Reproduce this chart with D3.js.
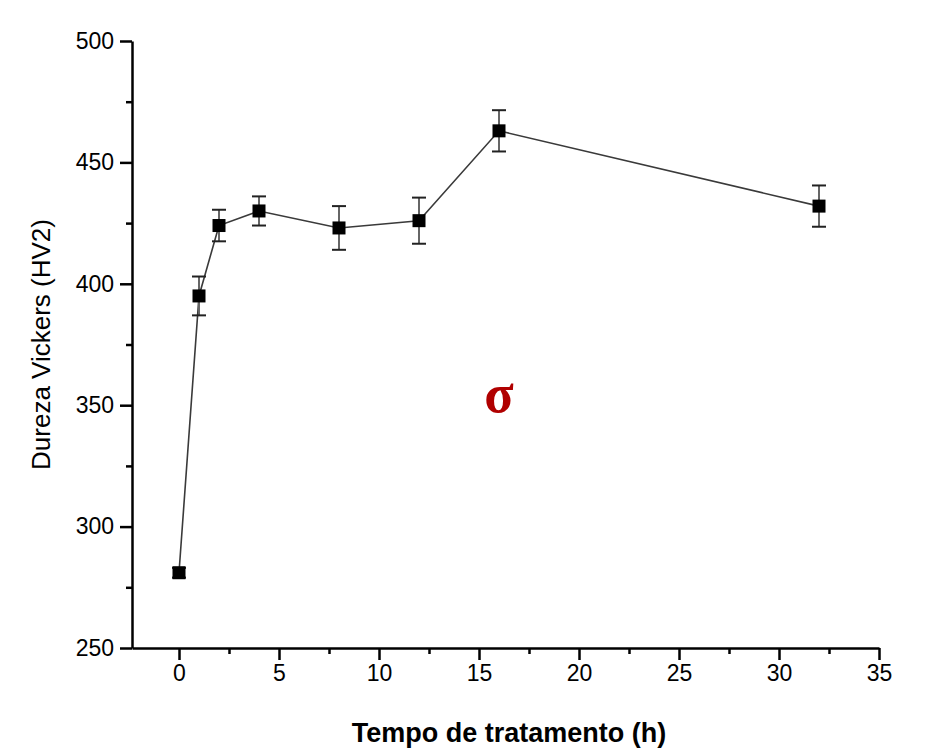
<!DOCTYPE html>
<html>
<head>
<meta charset="utf-8">
<script src="https://cdn.jsdelivr.net/npm/d3@7"></script>
<style>
    body { margin: 0; background: #fff; }
    svg { display: block; font-family: "Liberation Sans", Arial, sans-serif; }
</style>
</head>
<body>
<svg id="svg" width="936" height="749"></svg>
<script>
// tempo (h) vs dureza Vickers
let tempo = [0, 1, 2, 4, 8, 12, 16, 32];
let dureza = [281, 395, 424, 430, 423, 426, 463, 432];
let erro = [2, 8, 6.5, 6, 9, 9.5, 8.5, 8.5];
let xTicks = [0, 5, 10, 15, 20, 25, 30, 35];
let yTicks = [250, 300, 350, 400, 450, 500];

let svg = d3.select('#svg');
let margin = { left: 132, right: 936 - 879, top: 41, bottom: 749 - 648 };
let width = 936 - margin.left - margin.right;
let height = 749 - margin.top - margin.bottom;

let x = d3.scaleLinear().domain([-2.35, 35]).range([0, width]);
let y = d3.scaleLinear().domain([250, 500]).range([height, 0]);

let g = svg.append('g').attr('transform', `translate(${margin.left},${margin.top})`);

// minor ticks
let xMinor = d3.range(2.5, 35, 5);
let yMinor = d3.range(275, 500, 50);
g.append('g')
    .attr('transform', `translate(0,${height})`)
    .call(d3.axisBottom(x).tickValues(xMinor).tickSize(6).tickFormat(''))
    .call(a => a.select('.domain').remove())
    .selectAll('line').attr('stroke-width', 2.5);
g.append('g')
    .call(d3.axisLeft(y).tickValues(yMinor).tickSize(6).tickFormat(''))
    .call(a => a.select('.domain').remove())
    .selectAll('line').attr('stroke-width', 2.5);

let xAxis = g.append('g')
    .attr('transform', `translate(0,${height})`)
    .call(d3.axisBottom(x).tickValues(xTicks).tickSize(12).tickSizeOuter(0).tickPadding(5));
let yAxis = g.append('g')
    .call(d3.axisLeft(y).tickValues(yTicks).tickSize(12).tickSizeOuter(0).tickPadding(6));

[xAxis, yAxis].forEach(a => {
    a.select('.domain').attr('stroke-width', 2.5);
    a.selectAll('.tick line').attr('stroke-width', 2.5);
    a.selectAll('.tick text').attr('font-size', 23).attr('fill', '#000')
        .attr('font-family', '"Liberation Sans", Arial, sans-serif');
});

// connecting line
let line = d3.line().x((d, i) => x(tempo[i])).y(d => y(d));
g.append('path')
    .datum(dureza)
    .attr('d', line)
    .attr('fill', 'none')
    .attr('stroke', '#3a3a3a')
    .attr('stroke-width', 1.6);

// error bars
let eb = g.append('g');
tempo.forEach((t, i) => {
    let cx = x(t);
    let top = y(dureza[i] + erro[i]);
    let bot = y(dureza[i] - erro[i]);
    eb.append('line').attr('x1', cx).attr('x2', cx).attr('y1', top).attr('y2', bot)
        .attr('stroke', '#666').attr('stroke-width', 2);
    [top, bot].forEach(yy => {
        eb.append('line').attr('x1', cx - 7).attr('x2', cx + 7).attr('y1', yy).attr('y2', yy)
            .attr('stroke', '#222').attr('stroke-width', 2);
    });
});

// markers
g.selectAll('rect.pt')
    .data(dureza)
    .enter().append('rect')
    .attr('class', 'pt')
    .attr('x', (d, i) => x(tempo[i]) - 6.5)
    .attr('y', d => y(d) - 6.5)
    .attr('width', 13)
    .attr('height', 13)
    .attr('fill', '#000');

// sigma label
g.append('text')
    .attr('x', x(16))
    .attr('y', y(347))
    .attr('text-anchor', 'middle')
    .attr('font-family', '"Liberation Serif", "DejaVu Serif", serif')
    .attr('font-weight', 'bold')
    .attr('font-size', 54)
    .attr('fill', '#b00000')
    .text('σ');

// axis titles
svg.append('text')
    .attr('x', margin.left + x(16.5))
    .attr('y', 742)
    .attr('text-anchor', 'middle')
    .attr('font-size', 27)
    .attr('font-weight', 'bold')
    .text('Tempo de tratamento (h)');

svg.append('text')
    .attr('transform', `translate(50,${margin.top + height / 2}) rotate(-90)`)
    .attr('text-anchor', 'middle')
    .attr('font-size', 26)
    .text('Dureza Vickers (HV2)');
</script>
</body>
</html>
